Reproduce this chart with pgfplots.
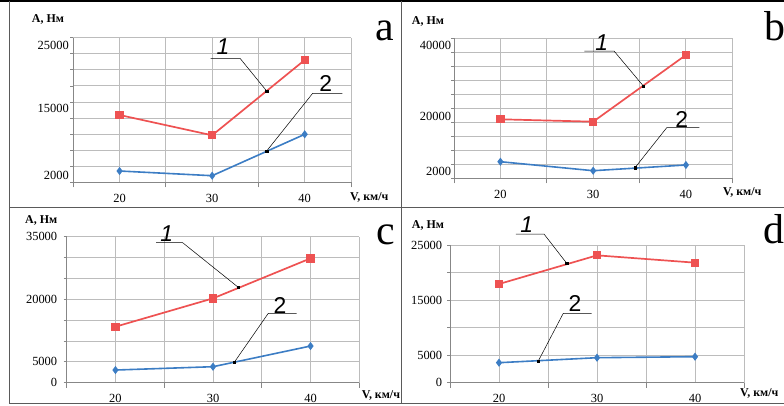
\documentclass[border=0pt]{standalone}
\usepackage{fontspec}
\setmainfont{Liberation Serif}
\newfontfamily\annfont{Liberation Sans}
\usepackage{pgfplots}
\pgfplotsset{compat=1.18}
\definecolor{cred}{RGB}{238,82,82}
\definecolor{cblue}{RGB}{60,125,196}
\definecolor{cgrid}{RGB}{188,188,188}
\definecolor{caxis}{RGB}{135,135,135}
\definecolor{cframe}{RGB}{90,90,90}
\pgfplotsset{panel/.style={
  scale only axis, anchor=south west, clip=false,
  xmin=15, xmax=45, ymin=0,
  xtick={20,30,40}, xticklabels={20,30,40},
  minor xtick={15,25,35,45},
  every major x tick/.append style={draw=none},
  xmajorgrids=true, xminorgrids=true, ymajorgrids=true,
  major grid style={cgrid, line width=0.9bp},
  minor grid style={cgrid, line width=0.9bp},
  tick align=outside, major tick length=3bp, minor tick length=5bp,
  axis x line*=bottom, axis y line*=left,
  axis line style={caxis, line width=0.9bp},
  every tick/.style={caxis, line width=0.8bp},
  tick label style={font=\fontsize{12.5}{12.5}\selectfont, black},
  xticklabel style={yshift=-5bp},
  yticklabels={}, scaled y ticks=false,
  extra y tick style={grid=none, tick style={draw=none}},
},
red/.style={cred, line width=1.7bp, mark=square*, mark size=3.3bp, mark options={solid}},
blue/.style={cblue, line width=1.6bp, mark=diamond*, mark size=2.8bp, mark options={solid}},
lead/.style={black, line width=0.5bp, mark=none},
dot/.style={black, only marks, mark=square*, mark size=1.2bp},
}
\newcommand{\ylab}{\textbf{A, Нм}}
\newcommand{\xlab}{\textbf{V, км/ч}}
\begin{document}
\begin{tikzpicture}
\useasboundingbox (0,0) rectangle (784bp,-406bp);
% frame
\draw[black, line width=2.5bp] (0,-1.2bp) -- (784bp,-1.2bp);
\draw[cframe, line width=1.3bp] (9.3bp,-1bp) -- (9.3bp,-403.3bp) -- (784bp,-403.3bp);
\draw[cframe, line width=1.5bp] (401.7bp,-1bp) -- (401.7bp,-403.3bp);
\draw[cframe, line width=1.5bp] (9.3bp,-207.3bp) -- (784bp,-207.3bp);

% ---------- panel a ----------
\begin{axis}[panel, at={(73.3bp,-182.3bp)}, width=277.7bp, height=144.6bp,
  ymax=27000, ytick={0,3000,...,27000},
  extra y ticks={1363,13873,25637}, extra y tick labels={2000,15000,25000},
  extra y tick style={yticklabel style={xshift=2bp}}]
\addplot[red] coordinates {(20,12566) (30,8776) (40,22836)};
\addplot[blue] coordinates {(20,2110) (30,1232) (40,8963)};
\addplot[lead] coordinates {(29.84,23154) (33.01,23154) (35.89,17048)};
\addplot[dot] coordinates {(35.89,17048)};
\addplot[lead] coordinates {(44.06,16618) (40.86,16618) (35.89,5844)};
\addplot[dot] coordinates {(35.89,5844)};
\end{axis}
\node[font=\annfont\itshape\fontsize{23}{23}\selectfont] at (223bp,-46.7bp) {1};
\node[font=\annfont\fontsize{23}{23}\selectfont] at (325.7bp,-83.3bp) {2};
\node[anchor=base west, inner sep=0, font=\fontsize{12}{12}\selectfont] at (31.7bp,-22.7bp) {\ylab};
\node[anchor=base west, inner sep=0, font=\fontsize{12}{12}\selectfont] at (350bp,-200bp) {\xlab};
\node[anchor=base west, inner sep=0, font=\fontsize{42}{42}\selectfont] at (375bp,-40.7bp) {a};

% ---------- panel b ----------
\begin{axis}[panel, at={(454bp,-178.3bp)}, width=278.3bp, height=140bp,
  ymax=45000, ytick={0,4500,...,45000},
  extra y ticks={2121,19800,42846}, extra y tick labels={2000,20000,40000},
  extra y tick style={yticklabel style={xshift=3.5bp}}]
\addplot[red] coordinates {(20,18964) (30,18200) (40,39632)};
\addplot[blue] coordinates {(20,5336) (30,2443) (40,4275)};
\addplot[lead] coordinates {(29.05,40918) (32.25,40918) (35.41,29668)};
\addplot[dot] coordinates {(35.41,29668)};
\addplot[lead] coordinates {(41.44,16264) (37.93,16264) (34.51,3407)};
\addplot[dot] coordinates {(34.51,3407)};
\end{axis}
\node[font=\annfont\itshape\fontsize{23}{23}\selectfont] at (601.7bp,-42.3bp) {1};
\node[font=\annfont\fontsize{23}{23}\selectfont] at (681.7bp,-119bp) {2};
\node[anchor=base west, inner sep=0, font=\fontsize{12}{12}\selectfont] at (411.7bp,-24.5bp) {\ylab};
\node[anchor=base west, inner sep=0, font=\fontsize{12}{12}\selectfont] at (723bp,-195bp) {\xlab};
\node[anchor=base west, inner sep=0, font=\fontsize{42}{42}\selectfont] at (764bp,-40bp) {b};

% ---------- panel c ----------
\begin{axis}[panel, at={(66.7bp,-382.7bp)}, width=292.6bp, height=146bp,
  ymax=35000, ytick={0,5000,...,35000},
  extra y ticks={0,5000,20000,35000}, extra y tick labels={0,5000,20000,35000},
  extra y tick style={yticklabel style={xshift=-3bp}}]
\addplot[red] coordinates {(20,13425) (30,20217) (40,29806)};
\addplot[blue] coordinates {(20,3037) (30,3836) (40,8790)};
\addplot[lead] coordinates {(24.16,33562) (26.89,33562) (32.59,22870)};
\addplot[dot] coordinates {(32.59,22870)};
\addplot[lead] coordinates {(38.58,16637) (35.67,16637) (32.18,4890)};
\addplot[dot] coordinates {(32.18,4890)};
\end{axis}
\node[font=\annfont\itshape\fontsize{23}{23}\selectfont] at (166.7bp,-233.3bp) {1};
\node[font=\annfont\fontsize{23}{23}\selectfont] at (280bp,-305bp) {2};
\node[anchor=base west, inner sep=0, font=\fontsize{12}{12}\selectfont] at (25bp,-223.3bp) {\ylab};
\node[anchor=base west, inner sep=0, font=\fontsize{12}{12}\selectfont] at (361.7bp,-398bp) {\xlab};
\node[anchor=base west, inner sep=0, font=\fontsize{42}{42}\selectfont] at (376.7bp,-244bp) {c};

% ---------- panel d ----------
\begin{axis}[panel, at={(450bp,-382.7bp)}, width=294bp, height=137.7bp,
  ymax=25000, ytick={0,5000,...,25000},
  extra y ticks={0,5000,15000,25000}, extra y tick labels={0,5000,15000,25000},
  extra y tick style={yticklabel style={xshift=-1.3bp}}]
\addplot[red] coordinates {(20,17918) (30,23123) (40,21792)};
\addplot[blue] coordinates {(20,3632) (30,4540) (40,4722)};
\addplot[lead] coordinates {(21.73,26997) (24.59,26997) (26.91,21677)};
\addplot[dot] coordinates {(26.91,21677)};
\addplot[lead] coordinates {(29.46,12600) (26.56,12600) (24.01,3940)};
\addplot[dot] coordinates {(24.01,3940)};
\end{axis}
\node[font=\annfont\itshape\fontsize{23}{23}\selectfont] at (526.7bp,-225bp) {1};
\node[font=\annfont\fontsize{23}{23}\selectfont] at (575bp,-303.3bp) {2};
\node[anchor=base west, inner sep=0, font=\fontsize{12}{12}\selectfont] at (411.7bp,-228.3bp) {\ylab};
\node[anchor=base west, inner sep=0, font=\fontsize{12}{12}\selectfont] at (740bp,-396.7bp) {\xlab};
\node[anchor=base west, inner sep=0, font=\fontsize{42}{42}\selectfont] at (763bp,-243.3bp) {d};
\end{tikzpicture}
\end{document}
